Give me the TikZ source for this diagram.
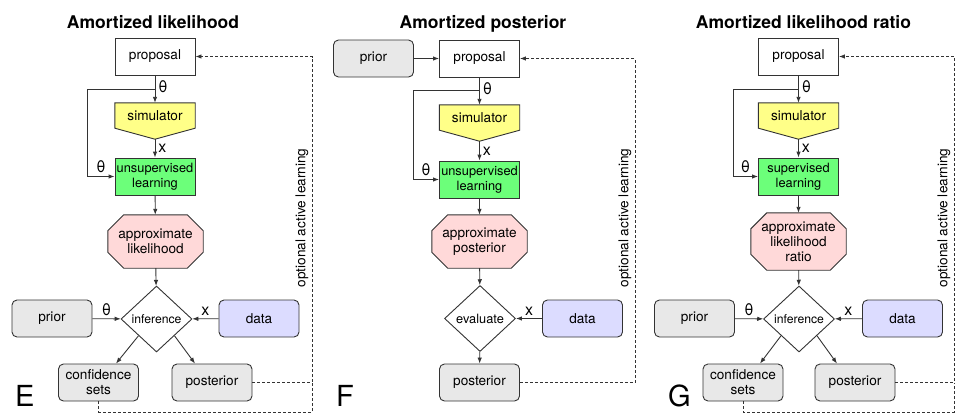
\documentclass[tikz,border=0pt]{standalone}
\usepackage{fontspec}
\setmainfont{TeX Gyre Heros}
\usepackage{tikz}
\usetikzlibrary{calc}
\usetikzlibrary{arrows.meta,shapes,backgrounds}
\usepackage{xcolor}
\definecolor{linegray}{HTML}{333333}
\definecolor{simyellow}{HTML}{FFFF88}
\definecolor{learngreen}{HTML}{6CFF7A}
\definecolor{approxpink}{HTML}{FFD9D9}
\definecolor{boxgray}{HTML}{E8E8E8}
\definecolor{datablue}{HTML}{DCDCFF}
\newcommand{\boxfont}{\fontsize{13.6}{15}\selectfont}
\newcommand{\learnfont}{\fontsize{12.8}{14.5}\selectfont}
\newcommand{\decfont}{\fontsize{12.2}{14}\selectfont}
% octagon drawn behind a named text node
\newcommand{\octagonbg}[1]{%
  \begin{scope}[on background layer]
    \filldraw[approxshape] ($(#1.north west)+(16,0)$) -- ($(#1.north east)+(-16,0)$) -- ($(#1.north east)+(0,16)$) -- ($(#1.south east)+(0,-16)$) -- ($(#1.south east)+(-16,0)$) -- ($(#1.south west)+(16,0)$) -- ($(#1.south west)+(0,-16)$) -- ($(#1.north west)+(0,16)$) -- cycle;
  \end{scope}}
\tikzset{
  boxline/.style={draw=linegray, line width=0.9pt, align=center, inner sep=1pt, font=\boxfont},
  propbox/.style={boxline, fill=white, minimum width=80, minimum height=37},
  simbox/.style={align=center, font=\boxfont, minimum width=80, minimum height=25, inner sep=0pt},
  simshape/.style={draw=linegray, line width=0.9pt, fill=simyellow},
  learnbox/.style={boxline, fill=learngreen, minimum width=80, minimum height=37, font=\learnfont},
  approxbox/.style={align=center, font=\boxfont, minimum width=95, minimum height=53, inner sep=0pt},
  approxshape/.style={draw=linegray, line width=0.9pt, fill=approxpink},
  decide/.style={boxline, diamond, fill=white, minimum width=71, minimum height=66, inner sep=0pt, font=\decfont},
  roundbox/.style={boxline, rounded corners=5pt, fill=boxgray, minimum width=80, minimum height=37},
  databox/.style={roundbox, fill=datablue},
  flow/.style={-{Latex[length=6pt,width=4.5pt]}, line width=0.9pt, draw=linegray},
  feedback/.style={dash pattern=on 3pt off 2pt, line width=0.8pt, draw=linegray},
  fbarrow/.style={feedback, -{Latex[length=6pt,width=4.5pt]}},
  lbl/.style={font=\fontsize{16}{16}\selectfont, inner sep=3pt},
  activetext/.style={rotate=90, font=\boxfont, inner sep=0pt},
  paneltitle/.style={font=\fontsize{17.5}{20}\selectfont\bfseries, anchor=base},
  panelletter/.style={font=\fontsize{29}{30}\selectfont, anchor=base west, inner sep=0pt}
}

\begin{document}
\begin{tikzpicture}[x=1pt,y=-1pt]
  \useasboundingbox (0,0) rectangle (968,418);

  % E: amortized likelihood
  \node[paneltitle] (titleE) at (153,28) {Amortized likelihood};
  \node[propbox] (propE) at (155,56.5) {proposal};
  \node[simbox] (simE) at (155,115.5) {simulator};
  \coordinate (simtipE) at ($(simE.south)+(0,11)$);
  \begin{scope}[on background layer]
    \filldraw[simshape] (simE.north west) -- (simE.north east) -- (simE.south east) -- (simtipE) -- (simE.south west) -- cycle;
  \end{scope}
  \node[learnbox] (learnE) at (155,176.5) {unsupervised\\learning};
  \node[approxbox] (apE) at (155.5,241.5) {approximate\\likelihood};
  \octagonbg{apE}
  \node[decide] (infE) at (156.5,319) {inference};
  \node[roundbox] (priorE) at (52,318.5) {prior};
  \node[databox] (dataE) at (259,318.5) {data};
  \node[roundbox] (confE) at (98.5,382.5) {confidence\\sets};
  \node[roundbox] (postE) at (212,382.5) {posterior};
  \node[panelletter] (letterE) at (15,406) {E};
  \node[activetext] (activeE) at (302,218) {optional active learning};
  \coordinate (brE) at (155,89);
  \coordinate (cornE) at (312,412);

  \draw[flow] (propE) -- node[lbl, right, pos=0.4] {θ} (simE);
  \draw[flow] (brE) -| ([xshift=-27pt]learnE.west) -- node[lbl, above] {θ} (learnE.west);
  \draw[flow] (simtipE) -- node[lbl, right] {x} (learnE);
  \draw[flow] (learnE) -- (apE);
  \draw[flow] (apE) -- (infE);
  \draw[flow] (priorE) -- node[lbl, above] {θ} (infE);
  \draw[flow] (dataE) -- node[lbl, above] {x} (infE);
  \draw[flow] (infE.south west) -- ([xshift=17.5pt]confE.north);
  \draw[flow] (infE.south east) -- ([xshift=-17pt]postE.north);
  \draw[fbarrow] (postE.east) -| (cornE |- propE.east) -- (propE.east);
  \draw[feedback] (confE.south) |- (cornE) -- (cornE |- postE.east);

  % F: amortized posterior
  \node[paneltitle] (titleF) at (483,28) {Amortized posterior};
  \node[roundbox] (priorF) at (373.5,58.5) {prior};
  \node[propbox] (propF) at (479.5,58.5) {proposal};
  \node[simbox] (simF) at (479.5,117.5) {simulator};
  \coordinate (simtipF) at ($(simF.south)+(0,11)$);
  \begin{scope}[on background layer]
    \filldraw[simshape] (simF.north west) -- (simF.north east) -- (simF.south east) -- (simtipF) -- (simF.south west) -- cycle;
  \end{scope}
  \node[learnbox] (learnF) at (479.5,179.5) {unsupervised\\learning};
  \node[approxbox] (apF) at (479.5,241.5) {approximate\\posterior};
  \octagonbg{apF}
  \node[decide, font=\learnfont] (evalF) at (480,318.5) {evaluate};
  \node[databox] (dataF) at (582.5,318.5) {data};
  \node[roundbox] (postF) at (479.5,382.5) {posterior};
  \node[panelletter] (letterF) at (336,406) {F};
  \node[activetext] (activeF) at (625,218) {optional active learning};
  \coordinate (brF) at (479.5,90);
  \coordinate (cornF) at (635,383);

  \draw[flow] (priorF) -- (propF);
  \draw[flow] (propF) -- node[lbl, right, pos=0.4] {θ} (simF);
  \draw[flow] (brF) -| ([xshift=-26pt]learnF.west) -- node[lbl, above] {θ} (learnF.west);
  \draw[flow] (simtipF) -- node[lbl, right] {x} (learnF);
  \draw[flow] (learnF) -- (apF);
  \draw[flow] (apF) -- (evalF);
  \draw[flow] (dataF) -- node[lbl, above] {x} (evalF);
  \draw[flow] (evalF) -- (postF);
  \draw[fbarrow] (postF.east) -| (cornF |- propF.east) -- (propF.east);

  % G: amortized likelihood ratio
  \node[paneltitle] (titleG) at (803.5,28) {Amortized likelihood ratio};
  \node[propbox] (propG) at (798.5,56.5) {proposal};
  \node[simbox] (simG) at (798.5,115.5) {simulator};
  \coordinate (simtipG) at ($(simG.south)+(0,11)$);
  \begin{scope}[on background layer]
    \filldraw[simshape] (simG.north west) -- (simG.north east) -- (simG.south east) -- (simtipG) -- (simG.south west) -- cycle;
  \end{scope}
  \node[learnbox] (learnG) at (798.5,176.5) {supervised\\learning};
  \node[approxbox, minimum height=57] (apG) at (798.5,241.5) {approximate\\likelihood\\ratio};
  \octagonbg{apG}
  \node[decide] (infG) at (799,319) {inference};
  \node[roundbox] (priorG) at (694.5,318.5) {prior};
  \node[databox] (dataG) at (902.5,318.5) {data};
  \node[roundbox] (confG) at (743,382.5) {confidence\\sets};
  \node[roundbox] (postG) at (855,382.5) {posterior};
  \node[panelletter] (letterG) at (668,406) {G};
  \node[activetext] (activeG) at (944,218) {optional active learning};
  \coordinate (brG) at (798.5,89);
  \coordinate (cornG) at (954,412);

  \draw[flow] (propG) -- node[lbl, right, pos=0.4] {θ} (simG);
  \draw[flow] (brG) -| ([xshift=-25pt]learnG.west) -- node[lbl, above] {θ} (learnG.west);
  \draw[flow] (simtipG) -- node[lbl, right] {x} (learnG);
  \draw[flow] (learnG) -- (apG);
  \draw[flow] (apG) -- (infG);
  \draw[flow] (priorG) -- node[lbl, above] {θ} (infG);
  \draw[flow] (dataG) -- node[lbl, above] {x} (infG);
  \draw[flow] (infG.south west) -- ([xshift=17pt]confG.north);
  \draw[flow] (infG.south east) -- ([xshift=-18pt]postG.north);
  \draw[fbarrow] (postG.east) -| (cornG |- propG.east) -- (propG.east);
  \draw[feedback] (confG.south) |- (cornG) -- (cornG |- postG.east);
\end{tikzpicture}
\end{document}
